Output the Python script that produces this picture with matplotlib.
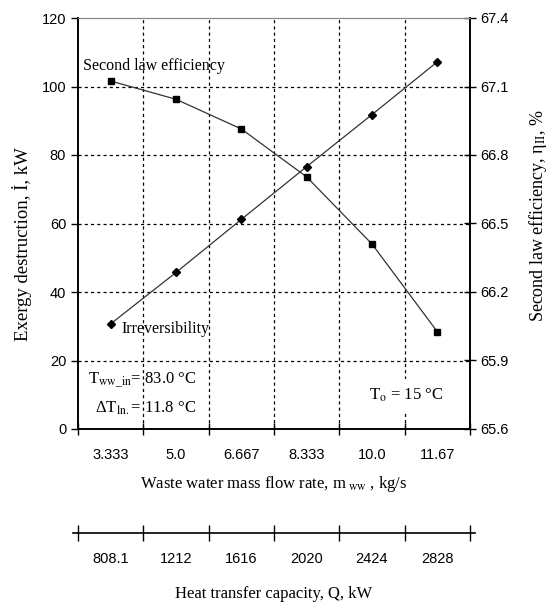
import numpy as np
import matplotlib
matplotlib.use('Agg')
import matplotlib.pyplot as plt

plt.rcParams['font.family'] = 'Liberation Serif'
plt.rcParams['mathtext.fontset'] = 'stix'

# data
mass_flow = ['3.333', '5.0', '6.667', '8.333', '10.0', '11.67']
heat_cap = ['808.1', '1212', '1616', '2020', '2424', '2828']
irreversibility = [30.7, 45.7, 61.2, 76.6, 91.8, 107.2]          # kW
eta_II = [67.124, 67.044, 66.914, 66.704, 66.41, 66.026]          # %

left_ticks = [0, 20, 40, 60, 80, 100, 120]
right_ticks = [65.6, 65.9, 66.2, 66.5, 66.8, 67.1, 67.4]

x = np.arange(len(mass_flow)) + 0.5
tick_font = {'family': 'Liberation Sans', 'size': 10.5}

fig = plt.figure(figsize=(5.55, 6.05), dpi=100)
ax = fig.add_axes([78/555, 1-429/605, 392/555, 411/605])
ax2 = ax.twinx()

ax.plot(x, irreversibility, color='#333333', lw=0.9, marker='D', ms=4.2,
        mfc='black', mec='black', zorder=3)
ax2.plot(x, eta_II, color='#333333', lw=0.9, marker='s', ms=5,
         mfc='black', mec='black', zorder=3)

ax.set_xlim(0, 6)
ax.set_ylim(0, 120)
ax2.set_ylim(65.6, 67.4)

# grid
for v in range(1, 6):
    ax.axvline(v, color='black', ls=(0, (2.5, 2.5)), lw=0.9, zorder=1)
for v in left_ticks[1:-1]:
    ax.axhline(v, color='black', ls=(0, (2.5, 2.5)), lw=0.9, zorder=1)

ax.set_xticks(range(0, 7))
ax.set_xticklabels([])
ax.set_xticks(x, minor=True)
ax.set_xticklabels(mass_flow, minor=True, fontdict=tick_font)
ax.tick_params(axis='x', which='major', direction='inout', length=8, width=1)
ax.tick_params(axis='x', which='minor', length=0, pad=14)

ax.set_yticks(left_ticks)
ax.set_yticklabels([str(t) for t in left_ticks], fontdict=tick_font)
ax.tick_params(axis='y', direction='out', length=5, width=1)
ax2.set_yticks(right_ticks)
ax2.set_yticklabels([f'{t:.1f}' for t in right_ticks], fontdict=tick_font)
ax2.tick_params(axis='y', direction='inout', length=8, width=1)

for a in (ax, ax2):
    for s in ('left', 'bottom', 'right'):
        a.spines[s].set_linewidth(1.2)
    a.spines['top'].set_color('#888888')

ax.set_xlabel('Waste water mass flow rate, m$_{\\rm\\ ww}$ , kg/s', fontsize=12, labelpad=8)
ax.set_ylabel('Exergy destruction, İ, kW', fontsize=13.5, va='center')
ax2.set_ylabel('Second law efficiency, η$_{\\rm II}$, %', fontsize=13, va='center')
ax.yaxis.set_label_coords(-56/392, (429-244)/411)
ax2.yaxis.set_label_coords((538-78)/392, (429-215)/411)

ax.text(0.08, 105.9, 'Second law efficiency', fontsize=11.5, va='center')
ax.text(0.67, 29.1, 'Irreversibility', fontsize=11.5, va='center')
ax.text(0.15, 14.3, 'T$_{\\rm ww\\_in}$= 83.0 °C', fontsize=12, va='center')
ax.text(0.26, 6.1, 'ΔT$_{\\rm ln.}$= 11.8 °C', fontsize=12, va='center')
ax.text(4.45, 9.7, 'T$_{\\rm o}$ = 15 °C', fontsize=12, va='center',
        bbox=dict(facecolor='white', edgecolor='none', pad=6))

# second x axis (heat transfer capacity)
ax3 = fig.add_axes([73/555, 1-533/605, 402/555, 0.0001])
pad = 5/(392/6)
ax3.set_xlim(-pad, 6+pad)
for s in ('left', 'right', 'top'):
    ax3.spines[s].set_visible(False)
ax3.spines['bottom'].set_linewidth(1.2)
ax3.set_yticks([])
ax3.set_xticks(range(0, 7))
ax3.set_xticklabels([])
ax3.set_xticks(x, minor=True)
ax3.set_xticklabels(heat_cap, minor=True, fontdict=tick_font)
ax3.tick_params(axis='x', which='major', direction='inout', length=12, width=1)
ax3.tick_params(axis='x', which='minor', length=0, pad=14)
ax3.set_xlabel('Heat transfer capacity, Q, kW', fontsize=12, labelpad=14)

plt.savefig('out.png', dpi=100)
